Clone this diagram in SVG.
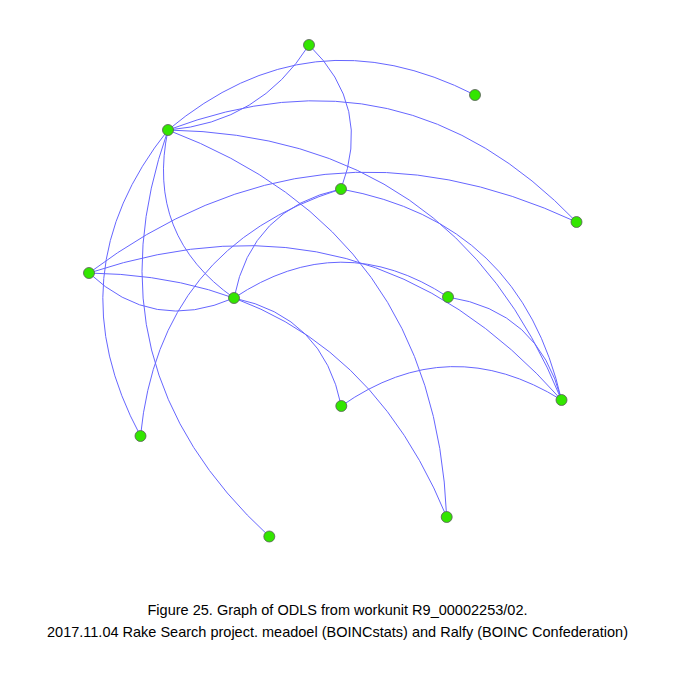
<svg xmlns="http://www.w3.org/2000/svg" width="675" height="675" viewBox="0 0 675 675">
<style>
.e{fill:none;stroke:#6666ff;stroke-width:1}
.n{fill:#33e600;stroke:#5a5a5a;stroke-width:0.8}
.t{font-family:"Liberation Sans",Arial,sans-serif;font-size:15px;fill:#000;text-anchor:middle}
</style>
<rect width="675" height="675" fill="#fff"/>
<g id="connectors">
<path class="e" d="M309,45 Q259.75,122.75 168,130"/>
<path class="e" d="M168,130 Q310,11.2 475,95"/>
<path class="e" d="M168,130 Q402.6,41.2 576.5,222"/>
<path class="e" d="M168,130 Q453.85,135.1 561.5,400"/>
<path class="e" d="M168,130 Q435.05,231.5 446.7,517"/>
<path class="e" d="M140.5,436 Q53.25,273.9 168,130"/>
<path class="e" d="M269.3,536.5 Q84.5,366.7 168,130"/>
<path class="e" d="M234,298 Q145.6,235.8 168,130"/>
<path class="e" d="M309,45 Q372.5,106.4 341,189"/>
<path class="e" d="M89,273 Q317.45,101.25 576.5,222"/>
<path class="e" d="M234,298 Q153.25,333.35 89,273"/>
<path class="e" d="M89,273 Q348.4,277 446.7,517"/>
<path class="e" d="M89,273 Q367.15,180.6 561.5,400"/>
<path class="e" d="M234,298 Q251.5,208.2 341,189"/>
<path class="e" d="M140.5,436 Q159.25,246.3 341,189"/>
<path class="e" d="M341,189 Q520.9,221.7 561.5,400"/>
<path class="e" d="M234,298 Q340.7,226.9 448,297"/>
<path class="e" d="M234,298 Q323.25,316.6 341.3,406"/>
<path class="e" d="M341.3,406 Q449.4,330.3 561.5,400"/>
<path class="e" d="M448,297 Q538.75,311 561.5,400"/>
</g>
<g id="nA"><circle class="n" cx="309" cy="45" r="5.5"/></g>
<g id="nB"><circle class="n" cx="475" cy="95" r="5.5"/></g>
<g id="nC"><circle class="n" cx="168" cy="130" r="5.5"/></g>
<g id="nD"><circle class="n" cx="341" cy="189" r="5.5"/></g>
<g id="nE"><circle class="n" cx="576.5" cy="222" r="5.5"/></g>
<g id="nF"><circle class="n" cx="89" cy="273" r="5.5"/></g>
<g id="nG"><circle class="n" cx="234" cy="298" r="5.5"/></g>
<g id="nH"><circle class="n" cx="448" cy="297" r="5.5"/></g>
<g id="nI"><circle class="n" cx="561.5" cy="400" r="5.5"/></g>
<g id="nJ"><circle class="n" cx="341.3" cy="406" r="5.5"/></g>
<g id="nK"><circle class="n" cx="140.5" cy="436" r="5.5"/></g>
<g id="nL"><circle class="n" cx="446.7" cy="517" r="5.5"/></g>
<g id="nM"><circle class="n" cx="269.3" cy="536.5" r="5.5"/></g>
<g id="caption">
<text class="t" x="337.5" y="615" textLength="380" lengthAdjust="spacingAndGlyphs">Figure 25. Graph of ODLS from workunit R9_00002253/02.</text>
<text class="t" x="337.5" y="637" textLength="581" lengthAdjust="spacingAndGlyphs">2017.11.04 Rake Search project. meadoel (BOINCstats) and Ralfy (BOINC Confederation)</text>
</g>
</svg>
